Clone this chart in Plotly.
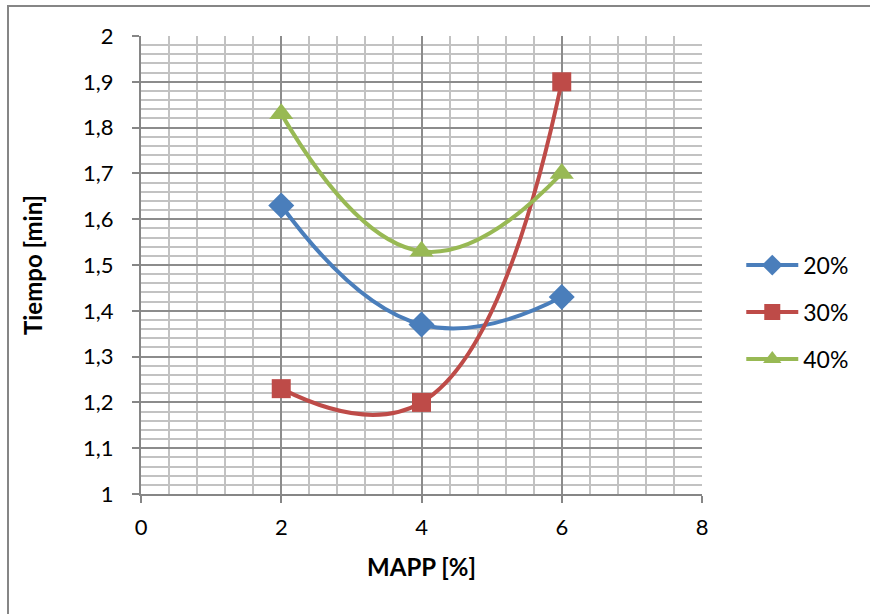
import plotly.graph_objects as go

mapp = [2, 4, 6]
s20 = [1.63, 1.37, 1.43]
s30 = [1.23, 1.20, 1.90]
s40 = [1.83, 1.53, 1.70]
names = ["20%", "30%", "40%"]

x_ticks = [0, 2, 4, 6, 8]
y_ticks = [1.0, 1.1, 1.2, 1.3, 1.4, 1.5, 1.6, 1.7, 1.8, 1.9, 2.0]
y_labels = ["1", "1,1", "1,2", "1,3", "1,4", "1,5", "1,6", "1,7", "1,8", "1,9", "2"]

colors = ["#4A7EBB", "#BE4B48", "#98B954"]
symbols = ["diamond", "square", "triangle-up"]
msizes = [20, 19, 21]

fig = go.Figure()
for i, (vals, name) in enumerate(zip([s20, s30, s40], names)):
    fig.add_trace(go.Scatter(
        x=mapp, y=vals, name=name, mode="lines+markers",
        line=dict(color=colors[i], width=4, shape="spline", smoothing=1.3),
        marker=dict(symbol=symbols[i], size=msizes[i], color=colors[i]),
        legendgroup=name,
    ))

font = "Lato, 'Open Sans', sans-serif"
fig.update_layout(
    width=870, height=614,
    margin=dict(l=141, r=168, t=36, b=120),
    paper_bgcolor="white", plot_bgcolor="white",
    font=dict(family=font, size=22, color="black"),
    showlegend=True,
    legend=dict(x=1.07, y=0.397, xanchor="left", yanchor="middle",
                font=dict(size=23), tracegroupgap=14, itemwidth=52,
                bgcolor="rgba(0,0,0,0)"),
    xaxis=dict(range=[0, 8], tickvals=x_ticks,
               showgrid=True, gridcolor="#8C8C8C", gridwidth=1.5,
               minor=dict(dtick=0.4, showgrid=True, gridcolor="#C2C2C2", gridwidth=2),
               showline=True, linecolor="#868686", linewidth=2,
               ticks="outside", ticklen=7, tickcolor="#868686", tickwidth=1.5,
               zeroline=False, ticklabelstandoff=6,
               title=dict(text="<b>MAPP [%]</b>", font=dict(size=24), standoff=20),
               tickfont=dict(size=22)),
    yaxis=dict(range=[1, 2], tickvals=y_ticks, ticktext=y_labels,
               showgrid=True, gridcolor="#8C8C8C", gridwidth=1.5,
               minor=dict(dtick=0.02, showgrid=True, gridcolor="#C2C2C2", gridwidth=2),
               showline=True, linecolor="#868686", linewidth=2,
               ticks="outside", ticklen=7, tickcolor="#868686", tickwidth=1.5,
               zeroline=False, ticklabelstandoff=14,
               title=dict(text="<b>Tiempo [min]</b>", font=dict(size=24), standoff=34),
               tickfont=dict(size=22)),
    shapes=[dict(type="rect", xref="paper", yref="paper",
                 x0=(8 - 141) / 561, x1=2, y0=-2, y1=(494 - 6) / 458,
                 line=dict(color="#868686", width=2), fillcolor="rgba(0,0,0,0)",
                 layer="below")],
)

fig.write_html("out.html")
